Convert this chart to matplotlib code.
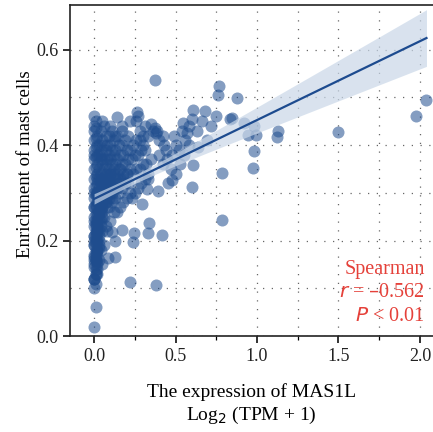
import numpy as np
import matplotlib
matplotlib.use("Agg")
import matplotlib.pyplot as plt
from matplotlib.ticker import MultipleLocator

plt.rcParams['font.family'] = ['Liberation Serif', 'DejaVu Serif']

# column of samples with almost no MAS1L expression
col_x = [0.00, 0.01, 0.00, 0.01, 0.00, 0.02, 0.01, 0.00, 0.02, 0.01,
         0.00, 0.01, 0.02, 0.00, 0.01, 0.02, 0.00, 0.01, 0.02, 0.00,
         0.01, 0.02, 0.00, 0.01, 0.02, 0.00, 0.01, 0.02, 0.00, 0.01,
         0.02, 0.00, 0.01, 0.02, 0.00, 0.01, 0.02, 0.00, 0.01, 0.02,
         0.00, 0.01, 0.02, 0.00, 0.01, 0.02, 0.00, 0.01, 0.02, 0.00,
         0.01, 0.00, 0.01, 0.00, 0.00]
col_y = [0.02, 0.06, 0.10, 0.11, 0.12, 0.13, 0.14, 0.15, 0.155, 0.16,
         0.17, 0.175, 0.18, 0.19, 0.195, 0.20, 0.21, 0.215, 0.22, 0.23,
         0.235, 0.24, 0.25, 0.255, 0.26, 0.27, 0.275, 0.28, 0.29, 0.295,
         0.30, 0.31, 0.315, 0.32, 0.33, 0.335, 0.34, 0.35, 0.355, 0.36,
         0.37, 0.375, 0.38, 0.39, 0.395, 0.40, 0.41, 0.415, 0.42, 0.43,
         0.435, 0.44, 0.45, 0.46, 0.38]

# lower part of the dense cloud
core_x = [0.00, 0.01, 0.02, 0.00, 0.01, 0.02, 0.03, 0.00, 0.01, 0.02,
          0.03, 0.04, 0.00, 0.01, 0.02, 0.03, 0.04, 0.05, 0.00, 0.01,
          0.02, 0.03, 0.04, 0.05, 0.06, 0.07, 0.00, 0.01, 0.02, 0.03,
          0.04, 0.05, 0.06, 0.07, 0.08, 0.09, 0.10, 0.02, 0.04, 0.06,
          0.08, 0.10, 0.12, 0.14, 0.16, 0.03, 0.05, 0.07, 0.09, 0.11,
          0.13, 0.15, 0.18, 0.20, 0.01, 0.03, 0.05, 0.08, 0.11, 0.14,
          0.00, 0.01, 0.00, 0.02, 0.01, 0.00, 0.02, 0.01, 0.03, 0.00,
          0.01, 0.02, 0.00, 0.01, 0.03, 0.02]
core_y = [0.12, 0.13, 0.14, 0.16, 0.17, 0.18, 0.19, 0.20, 0.21, 0.22,
          0.22, 0.23, 0.24, 0.24, 0.25, 0.25, 0.26, 0.26, 0.27, 0.27,
          0.28, 0.28, 0.28, 0.29, 0.29, 0.29, 0.30, 0.30, 0.30, 0.31,
          0.31, 0.31, 0.31, 0.32, 0.32, 0.32, 0.32, 0.33, 0.33, 0.33,
          0.33, 0.34, 0.34, 0.34, 0.35, 0.26, 0.27, 0.28, 0.29, 0.30,
          0.31, 0.32, 0.33, 0.34, 0.23, 0.24, 0.25, 0.27, 0.29, 0.31,
          0.12, 0.13, 0.145, 0.15, 0.16, 0.165, 0.17, 0.18, 0.185, 0.19,
          0.20, 0.205, 0.21, 0.22, 0.20, 0.23]

low_x = [0.03, 0.05, 0.04, 0.06, 0.03, 0.05, 0.07, 0.04, 0.06, 0.03,
         0.05, 0.07, 0.04, 0.06, 0.03, 0.05, 0.07, 0.04, 0.06, 0.03,
         0.05, 0.07, 0.04, 0.06, 0.03, 0.05, 0.07, 0.04, 0.06, 0.03,
         0.05, 0.07, 0.04, 0.06, 0.03, 0.05, 0.07, 0.04, 0.06, 0.05]
low_y = [0.16, 0.15, 0.18, 0.19, 0.21, 0.22, 0.23, 0.24, 0.25, 0.26,
         0.27, 0.28, 0.28, 0.29, 0.30, 0.30, 0.31, 0.32, 0.32, 0.33,
         0.33, 0.34, 0.34, 0.35, 0.35, 0.36, 0.36, 0.37, 0.37, 0.38,
         0.38, 0.39, 0.39, 0.40, 0.40, 0.41, 0.42, 0.43, 0.44, 0.45]

mid_x = [0.08, 0.10, 0.12, 0.09, 0.11, 0.13, 0.08, 0.10, 0.12, 0.09,
         0.11, 0.13, 0.08, 0.10, 0.12, 0.09, 0.11, 0.13, 0.08, 0.10,
         0.12, 0.09, 0.11, 0.13, 0.08, 0.10, 0.12, 0.09, 0.11, 0.13,
         0.086, 0.13, 0.11, 0.13, 0.10]
mid_y = [0.22, 0.24, 0.26, 0.27, 0.28, 0.29, 0.30, 0.30, 0.31, 0.32,
         0.32, 0.33, 0.34, 0.34, 0.35, 0.35, 0.36, 0.36, 0.37, 0.37,
         0.38, 0.38, 0.39, 0.39, 0.40, 0.40, 0.41, 0.42, 0.43, 0.42,
         0.163, 0.166, 0.218, 0.20, 0.44]

upper_x = [0.14, 0.16, 0.18, 0.20, 0.22, 0.15, 0.17, 0.19, 0.21, 0.14,
           0.16, 0.18, 0.20, 0.22, 0.15, 0.17, 0.19, 0.21, 0.14, 0.16,
           0.18, 0.20, 0.22, 0.15, 0.17, 0.19, 0.21, 0.14, 0.17, 0.22,
           0.14, 0.17, 0.17]
upper_y = [0.26, 0.27, 0.28, 0.29, 0.30, 0.30, 0.31, 0.32, 0.32, 0.33,
           0.33, 0.34, 0.34, 0.35, 0.35, 0.36, 0.36, 0.37, 0.37, 0.38,
           0.38, 0.39, 0.39, 0.40, 0.40, 0.41, 0.42, 0.42, 0.43, 0.45,
           0.459, 0.44, 0.222]

edge_x = [0.23, 0.25, 0.27, 0.29, 0.31, 0.33, 0.24, 0.26, 0.28, 0.30,
          0.32, 0.35, 0.23, 0.25, 0.27, 0.29, 0.31, 0.30, 0.24, 0.26,
          0.28, 0.30, 0.33, 0.36, 0.265, 0.27, 0.374, 0.385, 0.40, 0.33,
          0.24, 0.245, 0.33, 0.337, 0.294, 0.325, 0.39, 0.417,
          0.28, 0.31, 0.35, 0.38, 0.42, 0.26]
edge_y = [0.29, 0.30, 0.31, 0.32, 0.33, 0.34, 0.34, 0.35, 0.35, 0.36,
          0.36, 0.37, 0.37, 0.38, 0.38, 0.39, 0.39, 0.40, 0.40, 0.41,
          0.41, 0.42, 0.42, 0.43, 0.469, 0.461, 0.435, 0.43, 0.41, 0.33,
          0.197, 0.216, 0.216, 0.237, 0.276, 0.308, 0.304, 0.212,
          0.43, 0.44, 0.445, 0.425, 0.42, 0.45]

spread_x = [0.42, 0.45, 0.48, 0.52, 0.55, 0.58, 0.44, 0.50, 0.47, 0.53,
            0.454, 0.478, 0.546, 0.56, 0.57, 0.60, 0.61, 0.61, 0.64, 0.68,
            0.69, 0.60, 0.43, 0.40, 0.50, 0.49, 0.54, 0.58, 0.63, 0.66,
            0.72, 0.75]
spread_y = [0.36, 0.37, 0.38, 0.39, 0.38, 0.40, 0.39, 0.40, 0.35, 0.36,
            0.32, 0.327, 0.446, 0.41, 0.425, 0.454, 0.473, 0.358, 0.396, 0.471,
            0.41, 0.312, 0.40, 0.38, 0.34, 0.42, 0.43, 0.44, 0.43, 0.45,
            0.44, 0.46]

far_x = [0.374, 0.767, 0.761, 0.877, 0.835, 0.92, 0.847, 0.945, 0.98, 0.994,
         0.98, 0.976, 0.785, 0.785, 1.13, 1.12, 1.5, 1.975, 2.04, 0.22, 0.38]
far_y = [0.536, 0.524, 0.505, 0.498, 0.454, 0.446, 0.456, 0.421, 0.44, 0.421,
         0.387, 0.352, 0.341, 0.243, 0.43, 0.417, 0.427, 0.461, 0.494, 0.113, 0.107]

x = np.array(col_x + core_x + low_x + mid_x + upper_x + edge_x + spread_x + far_x)
y = np.array(col_y + core_y + low_y + mid_y + upper_y + edge_y + spread_y + far_y)

# least squares line with 95% confidence band
slope, intercept = np.polyfit(x, y, 1)
xs = np.linspace(x.min(), x.max(), 100)
fit = intercept + slope * xs
resid = y - (intercept + slope * x)
s = np.sqrt(np.sum(resid ** 2) / (len(x) - 2))
sxx = np.sum((x - x.mean()) ** 2)
half = 1.97 * s * np.sqrt(1 / len(x) + (xs - x.mean()) ** 2 / sxx)

fig = plt.figure(figsize=(4.33, 4.32), dpi=100)
ax = fig.add_axes([0.162, 0.222, 0.838, 0.766])

ax.scatter(x, y, s=75, color='#1f4d8e', alpha=0.55, linewidths=0, zorder=3)
ax.fill_between(xs, fit - half, fit + half, color='#c9d7e8', alpha=0.7, linewidth=0, zorder=4)
ax.plot(xs, fit, color='#1d4b8f', lw=1.6, zorder=5)

ax.set_xlim(-0.147, 2.08)
ax.set_ylim(0, 0.693)
ax.xaxis.set_minor_locator(MultipleLocator(0.25))
ax.yaxis.set_minor_locator(MultipleLocator(0.1))
ax.set_xticks([0, 0.5, 1.0, 1.5, 2.0])
ax.set_xticklabels(['0.0', '0.5', '1.0', '1.5', '2.0'])
ax.set_yticks([0, 0.2, 0.4, 0.6])
ax.set_yticklabels(['0.0', '0.2', '0.4', '0.6'])

ax.grid(which='both', color='#666666', linestyle=(0, (1, 6)), linewidth=0.9, zorder=0)
ax.set_axisbelow(True)

ax.spines['right'].set_visible(False)
for side in ['left', 'bottom', 'top']:
    ax.spines[side].set_linewidth(1.2)
    ax.spines[side].set_color('#222222')
ax.tick_params(axis='both', which='major', length=5, width=1.3, labelsize=13, colors='#222222')
ax.tick_params(axis='x', which='minor', length=3, width=0.9)
ax.tick_params(axis='y', which='minor', length=0)

ax.set_xlabel('The expression of MAS1L\nLog$_2$ (TPM + 1)', fontsize=14, linespacing=1.25, labelpad=13)
ax.set_ylabel('Enrichment of mast cells', fontsize=13.5)
ax.yaxis.set_label_coords(-0.1, 0.52)

ax.text(2.03, 0.022, 'Spearman\n$r$ = \u20130.562\n$P$ < 0.01', ha='right', va='bottom',
        fontsize=14.5, color='#e5413a', linespacing=1.3, zorder=6)

fig.savefig('out.png', dpi=100)
